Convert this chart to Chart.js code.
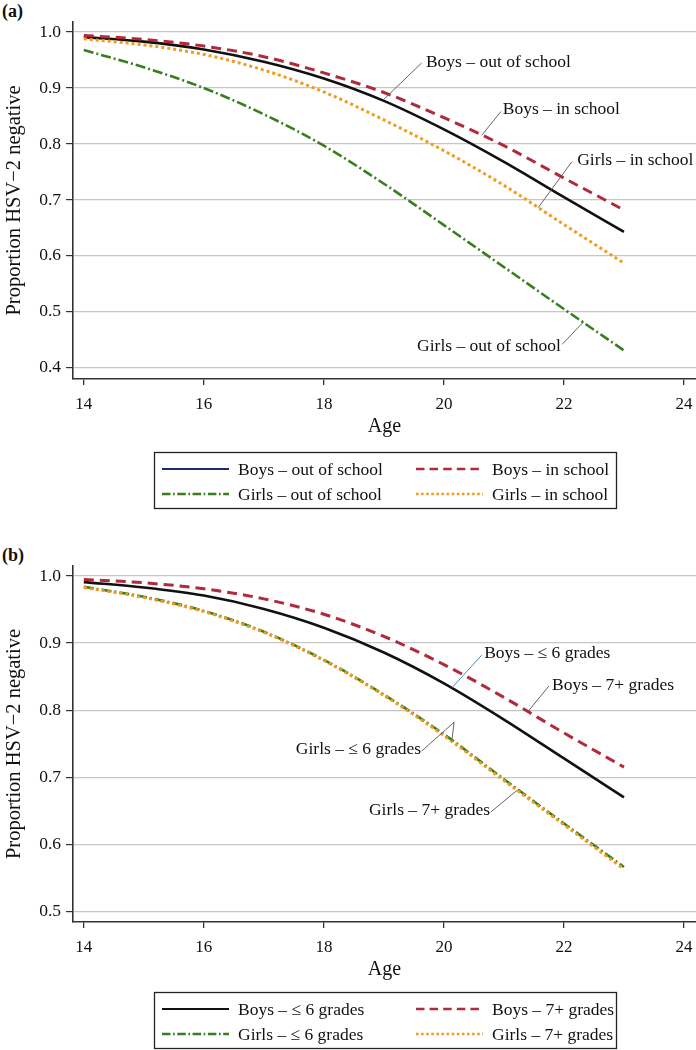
<!DOCTYPE html>
<html>
<head>
<meta charset="utf-8">
<script src="https://cdn.jsdelivr.net/npm/chart.js@4.4.0/dist/chart.umd.min.js"></script>
<style>
    body { margin: 0; background: #fff; width: 696px; height: 1050px; position: relative; overflow: hidden; }
    .panel { position: absolute; left: 0; width: 696px; }
    #wrapA { top: 0; height: 525px; }
    #wrapB { top: 540px; height: 510px; }
    .tag { position: absolute; left: 2px; font: bold 18px 'Liberation Serif', 'Times New Roman', serif; color: #111; }
</style>
</head>
<body>
<div class="tag" style="top:1px">(a)</div>
<div class="tag" style="top:545px">(b)</div>
<div class="panel" id="wrapA"><canvas id="chartA" width="696" height="525"></canvas></div>
<div class="panel" id="wrapB"><canvas id="chartB" width="696" height="510"></canvas></div>
<script>
// --- data ---
const ages = [14, 15, 16, 17, 18, 19, 20, 21, 22, 23];
const xTicks = [14, 16, 18, 20, 22, 24];
const yTicksA = [0.4, 0.5, 0.6, 0.7, 0.8, 0.9, 1.0];
const yTicksB = [0.5, 0.6, 0.7, 0.8, 0.9, 1.0];

// panel (a)
const boysOutA  = [0.991, 0.983, 0.969, 0.947, 0.917, 0.877, 0.826, 0.768, 0.705, 0.643];
const boysInA   = [0.994, 0.987, 0.975, 0.956, 0.927, 0.892, 0.847, 0.797, 0.739, 0.682];
const girlsOutA = [0.968, 0.937, 0.900, 0.853, 0.797, 0.729, 0.655, 0.580, 0.505, 0.431];
const girlsInA  = [0.988, 0.977, 0.960, 0.932, 0.893, 0.843, 0.788, 0.726, 0.656, 0.587];
const namesA = ['Boys – out of school', 'Boys – in school', 'Girls – out of school', 'Girls – in school'];

// panel (b)
const boysLowB   = [0.991, 0.983, 0.971, 0.951, 0.923, 0.886, 0.840, 0.786, 0.728, 0.670];
const boysHighB  = [0.995, 0.990, 0.981, 0.966, 0.943, 0.910, 0.868, 0.819, 0.766, 0.715];
const girlsLowB  = [0.984, 0.969, 0.948, 0.917, 0.875, 0.823, 0.764, 0.697, 0.631, 0.566];
const girlsHighB = [0.983, 0.968, 0.947, 0.916, 0.874, 0.822, 0.762, 0.695, 0.629, 0.563];
const namesB = ['Boys – ≤ 6 grades', 'Boys – 7+ grades', 'Girls – ≤ 6 grades', 'Girls – 7+ grades'];

const SERIF = "'Liberation Serif', 'Times New Roman', serif";

// gaya garis (solid, dashed, dash-dot, dotted)
const STYLE = {
    boys0:  { color: '#111111', dash: [], width: 2.6 },
    boys1:  { color: '#b02a3c', dash: [10, 6], width: 3 },
    girls0: { color: '#3a7d1f', dash: [10, 3, 2, 3], width: 2.6 },
    girls1: { color: '#f39a1e', dash: [3, 3], width: 3 }
};

function toPoints(ys) {
    return ages.map((a, i) => ({ x: a, y: ys[i] }));
}

function makeDataset(label, ys, st, legendColor, order) {
    return {
        label: label,
        data: toPoints(ys),
        borderColor: st.color,
        borderDash: st.dash,
        borderWidth: st.width,
        pointRadius: 0,
        fill: false,
        cubicInterpolationMode: 'monotone',
        legendColor: legendColor || st.color,
        order: order
    };
}

// nilai pada umur tertentu (untuk ujung garis penunjuk label)
function valueAt(ys, age) {
    for (let i = 0; i < ages.length - 1; i++) {
        if (age >= ages[i] && age <= ages[i + 1]) {
            const t = (age - ages[i]) / (ages[i + 1] - ages[i]);
            return ys[i] + t * (ys[i + 1] - ys[i]);
        }
    }
    return ys[ys.length - 1];
}

// label di dalam grafik + garis penunjuk
function curveLabelPlugin(labels) {
    return {
        id: 'curveLabels',
        afterDatasetsDraw(chart) {
            const ctx = chart.ctx;
            const xs = chart.scales.x, ysc = chart.scales.y;
            ctx.save();
            labels.forEach(l => {
                const pts = [l.from].concat(l.via ? [l.via] : []);
                pts.push([l.at, valueAt(l.series, l.at)]);
                ctx.beginPath();
                ctx.strokeStyle = l.lineColor || '#555';
                ctx.lineWidth = 0.9;
                pts.forEach((p, i) => {
                    const px = xs.getPixelForValue(p[0]);
                    const py = ysc.getPixelForValue(p[1]);
                    if (i === 0) ctx.moveTo(px, py); else ctx.lineTo(px, py);
                });
                ctx.stroke();
                ctx.fillStyle = '#111';
                ctx.font = '17.5px ' + SERIF;
                ctx.textAlign = l.align;
                ctx.textBaseline = 'middle';
                ctx.fillText(l.text, xs.getPixelForValue(l.age), ysc.getPixelForValue(l.val));
            });
            ctx.restore();
        }
    };
}

// legenda kotak 2 kolom di bawah grafik
function legendBoxPlugin(gap) {
    return {
        id: 'legendBox',
        afterDraw(chart) {
            const ctx = chart.ctx;
            const area = chart.chartArea;
            const boxW = 462, boxH = 56;
            const left = Math.round((area.left + area.right) / 2 - boxW / 2);
            const top = Math.round(area.bottom + gap);
            ctx.save();
            ctx.strokeStyle = '#222';
            ctx.lineWidth = 1.3;
            ctx.strokeRect(left + 0.5, top + 0.5, boxW, boxH);
            [0, 1, 2, 3].forEach((idx, k) => {
                const ds = chart.data.datasets[idx];
                const col = k % 2, row = Math.floor(k / 2);
                const sx = left + 8 + col * 254;
                const cy = top + 17 + row * 25;
                ctx.beginPath();
                ctx.strokeStyle = ds.legendColor;
                ctx.lineWidth = ds.borderDash.length ? 2.6 : 2.2;
                ctx.setLineDash(ds.borderDash.map(v => v * 0.85));
                ctx.moveTo(sx, cy);
                ctx.lineTo(sx + 67, cy);
                ctx.stroke();
                ctx.setLineDash([]);
                ctx.fillStyle = '#111';
                ctx.font = '17.5px ' + SERIF;
                ctx.textAlign = 'left';
                ctx.textBaseline = 'middle';
                ctx.fillText(ds.label, sx + 76, cy + 1);
            });
            ctx.restore();
        }
    };
}

function makeScales(yMin, yMax, yTicks) {
    return {
        x: {
            type: 'linear',
            min: 13.82,
            max: 24.2,
            afterBuildTicks: s => { s.ticks = xTicks.map(v => ({ value: v })); },
            afterFit: s => { s.height = 60; s.paddingLeft = 0; s.paddingRight = 0; },
            grid: { drawOnChartArea: false, drawTicks: true, tickLength: 6, tickColor: '#333', lineWidth: 1.3 },
            border: { color: '#333', width: 1.6 },
            ticks: {
                color: '#111',
                padding: 9,
                maxRotation: 0,
                font: { family: SERIF, size: 17 },
                callback: v => String(v)
            },
            title: {
                display: true,
                text: 'Age',
                color: '#111',
                font: { family: SERIF, size: 20 },
                padding: { top: 3, bottom: 0 }
            }
        },
        y: {
            min: yMin,
            max: yMax,
            afterBuildTicks: s => { s.ticks = yTicks.map(v => ({ value: v })); },
            afterFit: s => { s.width = 73; },
            grid: { color: '#c6c6c6', lineWidth: 1.2, drawTicks: true, tickLength: 7, tickColor: '#333' },
            border: { color: '#333', width: 1.6 },
            ticks: {
                color: '#111',
                padding: 5,
                font: { family: SERIF, size: 17.5 },
                callback: v => Number(v).toFixed(1)
            },
            title: {
                display: true,
                text: 'Proportion HSV−2 negative',
                color: '#111',
                font: { family: SERIF, size: 20.5 },
                padding: { top: 2, bottom: 0 }
            }
        }
    };
}

function baseOptions(yMin, yMax, yTicks, padTop, padBottom) {
    return {
        responsive: false,
        devicePixelRatio: 1,
        animation: false,
        layout: { padding: { top: padTop, left: 0, right: 0, bottom: padBottom } },
        plugins: { legend: { display: false }, tooltip: { enabled: false } },
        scales: makeScales(yMin, yMax, yTicks)
    };
}

// --- panel (a) ---
const labelsA = [
    { text: namesA[0], age: 19.70, val: 0.945, align: 'left', from: [19.63, 0.945], series: boysOutA, at: 18.98 },
    { text: namesA[1], age: 20.98, val: 0.861, align: 'left', from: [20.95, 0.858], series: boysInA, at: 20.63 },
    { text: namesA[3], age: 22.22, val: 0.771, align: 'left', from: [22.13, 0.768], series: girlsInA, at: 21.57 },
    { text: namesA[2], age: 21.95, val: 0.4375, align: 'right', from: [21.97, 0.442], series: girlsOutA, at: 22.32 }
];

new Chart(document.getElementById('chartA'), {
    type: 'line',
    data: {
        datasets: [
            makeDataset(namesA[0], boysOutA, STYLE.boys0, '#1f2a6e', 3),
            makeDataset(namesA[1], boysInA, STYLE.boys1, null, 1),
            makeDataset(namesA[2], girlsOutA, STYLE.girls0, null, 4),
            makeDataset(namesA[3], girlsInA, STYLE.girls1, null, 2)
        ]
    },
    options: baseOptions(0.38, 1.018, yTicksA, 22, 86),
    plugins: [curveLabelPlugin(labelsA), legendBoxPlugin(73)]
});

// --- panel (b) ---
const labelsB = [
    { text: namesB[0], age: 20.67, val: 0.885, align: 'left', from: [20.63, 0.882], series: boysLowB, at: 20.13, lineColor: '#3b7fc0' },
    { text: namesB[1], age: 21.80, val: 0.837, align: 'left', from: [21.75, 0.836], series: boysHighB, at: 21.40 },
    { text: namesB[2], age: 19.62, val: 0.742, align: 'right', from: [19.63, 0.739], via: [20.17, 0.782], series: girlsHighB, at: 20.13 },
    { text: namesB[3], age: 20.77, val: 0.651, align: 'right', from: [20.78, 0.648], series: girlsHighB, at: 21.22 }
];

new Chart(document.getElementById('chartB'), {
    type: 'line',
    data: {
        datasets: [
            makeDataset(namesB[0], boysLowB, STYLE.boys0, null, 3),
            makeDataset(namesB[1], boysHighB, STYLE.boys1, null, 1),
            makeDataset(namesB[2], girlsLowB, STYLE.girls0, null, 4),
            makeDataset(namesB[3], girlsHighB, STYLE.girls1, null, 2)
        ]
    },
    options: baseOptions(0.484, 1.015, yTicksB, 26, 68),
    plugins: [curveLabelPlugin(labelsB), legendBoxPlugin(70)]
});
</script>
</body>
</html>
